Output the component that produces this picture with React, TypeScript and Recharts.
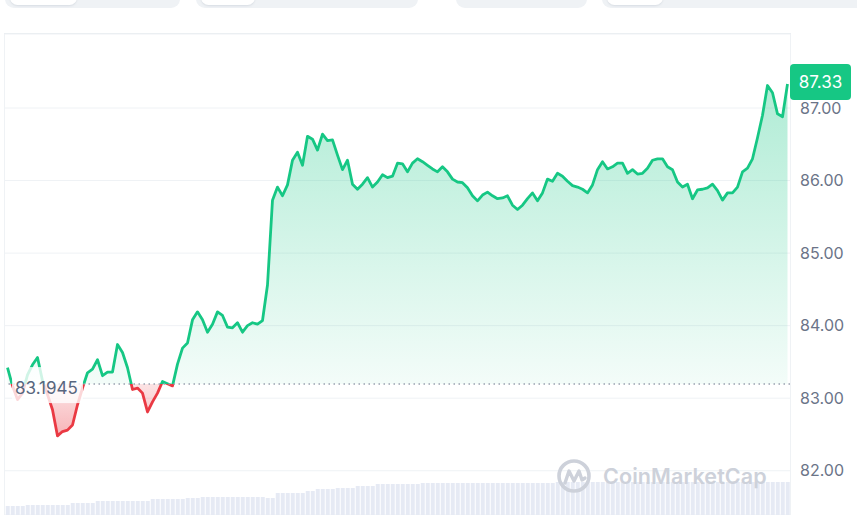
import React from "react";
import { ComposedChart, Area, Bar, XAxis, YAxis, CartesianGrid, ReferenceLine } from "recharts";

// price trace, one point every ~5px of the reference
const prices = [
  83.42, 83.17, 82.98, 83.07, 83.32, 83.46, 83.56, 83.24, 83.05, 82.84,
  82.48, 82.54, 82.56, 82.63, 82.91, 83.14, 83.35, 83.40, 83.53, 83.31,
  83.36, 83.36, 83.74, 83.63, 83.42, 83.12, 83.14, 83.07, 82.81, 82.95,
  83.07, 83.23, 83.20, 83.17, 83.47, 83.69, 83.76, 84.08, 84.19, 84.08,
  83.91, 84.02, 84.19, 84.14, 83.98, 83.97, 84.04, 83.91, 84.00, 84.04,
  84.02, 84.07, 84.56, 85.73, 85.91, 85.79, 85.94, 86.28, 86.39, 86.21,
  86.61, 86.57, 86.42, 86.64, 86.55, 86.56, 86.35, 86.15, 86.28, 85.95,
  85.88, 85.95, 86.04, 85.91, 85.98, 86.08, 86.04, 86.06, 86.24, 86.23,
  86.12, 86.24, 86.30, 86.26, 86.21, 86.16, 86.12, 86.19, 86.12, 86.02,
  85.98, 85.97, 85.90, 85.79, 85.72, 85.80, 85.84, 85.79, 85.75, 85.76,
  85.79, 85.66, 85.60, 85.66, 85.75, 85.83, 85.72, 85.83, 86.02, 85.99,
  86.10, 86.06, 85.99, 85.93, 85.91, 85.88, 85.83, 85.94, 86.15, 86.26,
  86.16, 86.19, 86.24, 86.24, 86.10, 86.15, 86.09, 86.10, 86.17, 86.28,
  86.30, 86.30, 86.19, 86.15, 85.98, 85.91, 85.95, 85.75, 85.87, 85.88,
  85.90, 85.95, 85.86, 85.73, 85.83, 85.83, 85.91, 86.12, 86.17, 86.30,
  86.59, 86.90, 87.31, 87.21, 86.92, 86.88, 87.33,
];

// volume strip along the bottom (relative units)
const volumes = [
  9, 9, 9, 9, 10, 10, 10, 10, 10, 10,
  10, 10, 10, 12, 12, 12, 12, 12, 14, 14,
  14, 14, 14, 14, 14, 14, 14, 14, 14, 16,
  16, 16, 16, 16, 16, 16, 17, 17, 17, 18,
  18, 18, 18, 18, 18, 18, 18, 18, 18, 18,
  18, 18, 17, 17, 22, 22, 22, 22, 22, 22,
  24, 24, 26, 26, 26, 26, 27, 27, 27, 27,
  29, 29, 29, 29, 31, 31, 31, 31, 31, 31,
  31, 31, 31, 32, 32, 32, 32, 32, 32, 32,
  32, 32, 32, 32, 32, 32, 32, 32, 32, 32,
  32, 32, 32, 32, 32, 32, 32, 32, 32, 32,
  33, 33, 33, 33, 33, 33, 33, 33, 33, 33,
  33, 33, 33, 33, 33, 33, 33, 33, 33, 33,
  33, 33, 33, 33, 33, 33, 33, 33, 33, 33,
  33, 33, 33, 33, 33, 33, 33, 33, 33, 33,
  33, 33, 33, 33, 33, 33, 33,
];

const yTicks = [82, 83, 84, 85, 86, 87];
const openPrice = 83.1945;
const lastPrice = 87.33;

const UP = "#16c784";
const DOWN = "#ea3943";
const FONT = "Inter, 'Noto Sans', sans-serif";

const chartData = prices.map((price, i) => ({ i, price, volume: volumes[i] }));

const maxP = Math.max(...prices);
const minP = Math.min(...prices);
const split = (maxP - openPrice) / (maxP - minP);

const OpenLabel = (props: any) => {
  const { viewBox } = props;
  const x = viewBox.x;
  const y = viewBox.y;
  return (
    <g>
      <rect x={x + 7} y={y - 17} width={71} height={36} fill="#ffffff" fillOpacity={0.8} />
      <text x={x + 10} y={y + 4} dy="0.355em" fontSize={17} fontFamily={FONT} fill="#58667e">
        {openPrice}
      </text>
    </g>
  );
};

const PriceBadge = (props: any) => {
  const { viewBox } = props;
  const x = viewBox.x + viewBox.width;
  const y = viewBox.y;
  return (
    <g>
      <rect x={x} y={y - 20} width={61} height={36} rx={4} fill={UP} />
      <text x={x + 30.5} y={y - 2} dy="0.355em" textAnchor="middle" fontSize={17} fontFamily={FONT} fill="#ffffff">
        {lastPrice.toFixed(2)}
      </text>
    </g>
  );
};

const Tab = ({ left, width, pill }: { left: number; width: number; pill?: number }) => (
  <div style={{ position: "absolute", left, top: -10, width, height: 18, borderRadius: 9, background: "#eff2f5" }}>
    {pill ? (
      <div
        style={{
          position: "absolute", left: 5, top: 0, width: pill, height: 15, borderRadius: 8,
          background: "#fff", boxShadow: "0 1px 2px rgba(88,102,126,0.15)",
        }}
      />
    ) : null}
  </div>
);

export default function App() {
  return (
    <div style={{ position: "absolute", left: 0, top: 0, width: 857, height: 515, overflow: "hidden", background: "#fff", fontFamily: FONT }}>
      <Tab left={5} width={175} pill={67} />
      <Tab left={196} width={222} pill={54} />
      <Tab left={456} width={131} />
      <Tab left={602} width={280} pill={56} />

      <div
        style={{
          position: "absolute", left: 4, top: 33, width: 785, height: 490,
          borderTop: "1px solid #e8ebef", borderLeft: "1px solid #eff2f5", borderRight: "1px solid #eff2f5",
        }}
      />

      <div style={{ position: "absolute", left: 0, top: 0 }}>
        <ComposedChart width={857} height={515} data={chartData} margin={{ top: 34, right: 0, bottom: 0, left: 5 }} barCategoryGap="15%">
          <defs>
            <linearGradient id="strokeSplit" x1="0" y1="0" x2="0" y2="1">
              <stop offset={0} stopColor={UP} />
              <stop offset={split} stopColor={UP} />
              <stop offset={split} stopColor={DOWN} />
              <stop offset={1} stopColor={DOWN} />
            </linearGradient>
            <linearGradient id="fillSplit" x1="0" y1="0" x2="0" y2="1">
              <stop offset={0} stopColor={UP} stopOpacity={0.34} />
              <stop offset={split} stopColor={UP} stopOpacity={0.05} />
              <stop offset={split} stopColor={DOWN} stopOpacity={0.14} />
              <stop offset={1} stopColor={DOWN} stopOpacity={0.38} />
            </linearGradient>
          </defs>
          <CartesianGrid vertical={false} stroke="#eff2f5" yAxisId="price" />
          <XAxis dataKey="i" hide />
          <YAxis
            yAxisId="price"
            orientation="right"
            width={67}
            domain={[81.39, 88.02]}
            ticks={yTicks}
            allowDataOverflow
            axisLine={false}
            tickLine={false}
            tickMargin={4}
            tickFormatter={(v: number) => v.toFixed(2)}
            tick={{ fontSize: 16, fill: "#6b7488", fontFamily: FONT }}
          />
          <YAxis yAxisId="vol" hide domain={[0, 481]} />
          <Bar yAxisId="vol" dataKey="volume" fill="#e6eaf4" isAnimationActive={false} />
          <Area
            yAxisId="price"
            type="linear"
            dataKey="price"
            baseValue={openPrice}
            stroke="url(#strokeSplit)"
            strokeWidth={2.8}
            strokeLinejoin="round"
            fill="url(#fillSplit)"
            fillOpacity={1}
            dot={false}
            activeDot={false}
            isAnimationActive={false}
          />
          <ReferenceLine
            yAxisId="price"
            y={openPrice}
            stroke="#9aa1b0"
            strokeWidth={1.5}
            strokeDasharray="1.5 3.5"
            label={<OpenLabel />}
          />
          <ReferenceLine yAxisId="price" y={lastPrice} stroke="none" label={<PriceBadge />} />
        </ComposedChart>
      </div>

      <div style={{ position: "absolute", left: 556, top: 458, height: 36, display: "flex", alignItems: "center", pointerEvents: "none" }}>
        <svg width={36} height={36} viewBox="0 0 36 36">
          <circle cx={18} cy={18} r={15} fill="none" stroke="#cdd1da" strokeWidth={3.6} />
          <polyline
            points="9,25 13,13 18,23 23,13 26,22 29,20"
            fill="none"
            stroke="#cdd1da"
            strokeWidth={3.4}
            strokeLinejoin="round"
            strokeLinecap="round"
          />
        </svg>
        <span style={{ marginLeft: 11, fontSize: 21.5, fontWeight: 600, color: "#cdd1da", letterSpacing: 0.1 }}>CoinMarketCap</span>
      </div>
    </div>
  );
}
